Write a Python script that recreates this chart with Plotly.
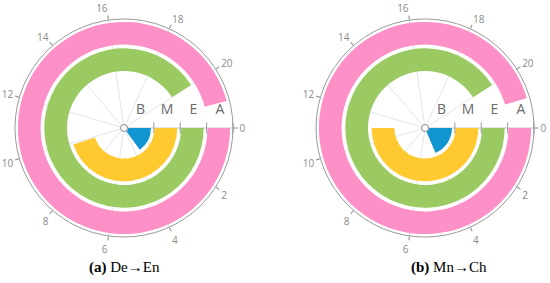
import plotly.graph_objects as go

# radial categories, inner -> outer
categories = ['B', 'M', 'E', 'A']
colors = ['#1195d0', '#ffc92f', '#9bca63', '#fd90c7']

# values (angular axis runs 0..22 over the full circle)
vals_de_en = [3.3, 9.9, 20.0, 21.1]
vals_mn_ch = [4.1, 11.0, 20.0, 21.0]

full_turn = 22
tick_values = [0, 2, 4, 6, 8, 10, 12, 14, 16, 18, 20]
captions = ['<b>(a)</b> De\u2192En', '<b>(b)</b> Mn\u2192Ch']

deg = 360 / full_turn
r_min = -0.13
W, H = 550, 283

fig = go.Figure()

for k, vals in enumerate([vals_de_en, vals_mn_ch]):
    sub = 'polar' if k == 0 else 'polar2'
    # boundary ticks on the radial axis
    fig.add_trace(go.Scatterpolar(
        r=list(range(1, len(categories) + 1)), theta=[0] * len(categories),
        mode='markers',
        marker=dict(symbol='line-ns', size=8, line=dict(color='#9a9a9a', width=1)),
        subplot=sub, showlegend=False, hoverinfo='skip'))
    for i, (cat, v) in enumerate(zip(categories, vals)):
        fig.add_trace(go.Barpolar(
            r=[0.86], base=[i + 0.03], theta=[v * deg / 2], width=[v * deg],
            marker=dict(color=colors[i], line=dict(width=0)),
            name=cat, subplot=sub, showlegend=False, hoverinfo='skip'))
    # small hub at the centre
    fig.add_trace(go.Scatterpolar(
        r=[r_min], theta=[0], mode='markers',
        marker=dict(symbol='circle', size=7, color='white',
                    line=dict(color='#8a8a8a', width=1)),
        subplot=sub, showlegend=False, hoverinfo='skip'))

polar_style = dict(
    bgcolor='white',
    angularaxis=dict(
        direction='clockwise', rotation=0, thetaunit='degrees',
        tickvals=[t * deg for t in tick_values],
        ticktext=[str(t) for t in tick_values],
        ticks='outside', ticklen=4, tickcolor='#8a8a8a',
        tickfont=dict(family='Open Sans', size=10, color='#8a8a8a'),
        showline=True, linecolor='#9a9a9a', linewidth=1,
        showgrid=True, gridcolor='#e2e6eb', gridwidth=1),
    radialaxis=dict(
        range=[r_min, 4],
        tickvals=[i + 0.5 for i in range(len(categories))], ticktext=categories,
        tickfont=dict(family='Open Sans', size=14, color='#6a6a6a'),
        ticks='outside', ticklen=8, tickcolor='rgba(0,0,0,0)', side='counterclockwise',
        showline=True, linecolor='#d0d0d0', linewidth=1, angle=0, tickangle=0,
        showgrid=False, layer='below traces'),
)

fig.update_layout(
    width=W, height=H,
    margin=dict(l=0, r=0, t=0, b=0),
    paper_bgcolor='white', plot_bgcolor='white',
    polar=dict(domain=dict(x=[15 / W, 233 / W], y=[46 / H, 264 / H]), **polar_style),
    polar2=dict(domain=dict(x=[316 / W, 534 / W], y=[46 / H, 264 / H]), **polar_style),
    annotations=[
        dict(text=captions[0], x=124 / W, y=16 / H, xref='paper', yref='paper',
             showarrow=False, xanchor='center', yanchor='middle',
             font=dict(family='Liberation Serif', size=15, color='black')),
        dict(text=captions[1], x=449 / W, y=16 / H, xref='paper', yref='paper',
             showarrow=False, xanchor='center', yanchor='middle',
             font=dict(family='Liberation Serif', size=15, color='black')),
    ],
)

# drop the browser's default body margin so the figure sits at the page corner
fig.write_html('out.html', config={'displayModeBar': False},
               post_script="document.body.style.margin='0';")
